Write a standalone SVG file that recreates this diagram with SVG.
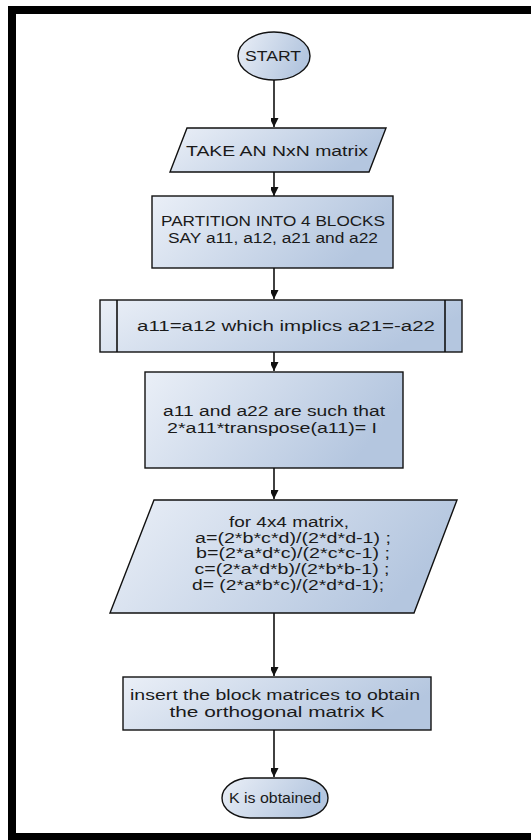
<svg xmlns="http://www.w3.org/2000/svg" width="531" height="840" viewBox="0 0 531 840">
<style>
.shape{stroke:#111;stroke-width:1.4;fill:url(#g)}
.t{font-family:"Liberation Sans",Arial,sans-serif;font-size:14px;fill:#1a1a1a}
.c{stroke:#111;stroke-width:1.6;fill:none}
</style>
<defs>
<linearGradient id="g" x1="0" y1="0" x2="1" y2="0.3">
<stop offset="0" stop-color="#eaeff7"/>
<stop offset="1" stop-color="#b4c6df"/>
</linearGradient>
<marker id="ah" markerUnits="userSpaceOnUse" markerWidth="18" markerHeight="18" viewBox="-9 -15 18 18" refX="0" refY="0" orient="auto-start-reverse">
<path d="M0,0 L-7,-14 L0,-10 L7,-14 Z" fill="#111" transform="rotate(-90)"/>
</marker>
</defs>
<g id="frame">
<rect x="8" y="6" width="523" height="8" fill="#000"/>
<rect x="8" y="6" width="8" height="834" fill="#000"/>
<rect x="8" y="833" width="523" height="7" fill="#000"/>
</g>
<g id="connectors">
<line class="c" x1="274" y1="80" x2="274" y2="127" marker-end="url(#ah)"/>
<line class="c" x1="274" y1="172" x2="274" y2="196" marker-end="url(#ah)"/>
<line class="c" x1="274" y1="268" x2="274" y2="299" marker-end="url(#ah)"/>
<line class="c" x1="274" y1="352" x2="274" y2="371" marker-end="url(#ah)"/>
<line class="c" x1="274" y1="468" x2="274" y2="499" marker-end="url(#ah)"/>
<line class="c" x1="274" y1="613" x2="274" y2="676" marker-end="url(#ah)"/>
<line class="c" x1="274" y1="730" x2="274" y2="777" marker-end="url(#ah)"/>
</g>
<g id="start">
<ellipse class="shape" cx="274" cy="56" rx="36" ry="24"/>
<text class="t" x="273" y="61" font-size="15" text-anchor="middle" textLength="56" lengthAdjust="spacingAndGlyphs">START</text>
</g>
<g id="take">
<polygon class="shape" points="187,128 386,128 369,172 170,172"/>
<text class="t" x="277" y="156" text-anchor="middle" textLength="182" lengthAdjust="spacingAndGlyphs">TAKE AN NxN matrix</text>
</g>
<g id="partition">
<rect class="shape" x="152" y="196" width="241" height="72"/>
<text class="t" x="273" y="226" text-anchor="middle" textLength="224" lengthAdjust="spacingAndGlyphs">PARTITION INTO 4 BLOCKS</text>
<text class="t" x="273" y="243" text-anchor="middle" textLength="210" lengthAdjust="spacingAndGlyphs">SAY a11, a12, a21 and a22</text>
</g>
<g id="predefined">
<rect class="shape" x="100" y="300" width="362" height="52"/>
<line class="c" x1="117" y1="300" x2="117" y2="352"/>
<line class="c" x1="445" y1="300" x2="445" y2="352"/>
<text class="t" x="286" y="331" text-anchor="middle" textLength="298" lengthAdjust="spacingAndGlyphs">a11=a12 which implics a21=-a22</text>
</g>
<g id="orth">
<rect class="shape" x="145" y="372" width="258" height="96"/>
<text class="t" x="274" y="416" text-anchor="middle" textLength="222" lengthAdjust="spacingAndGlyphs">a11 and a22 are such that</text>
<text class="t" x="272" y="433" text-anchor="middle" textLength="210" lengthAdjust="spacingAndGlyphs">2*a11*transpose(a11)= I</text>
</g>
<g id="formula">
<polygon class="shape" points="154,500 457,500 414,613 110,613"/>
<text class="t" x="289" y="527" text-anchor="middle" textLength="120" lengthAdjust="spacingAndGlyphs">for 4x4 matrix,</text>
<text class="t" x="293" y="543" text-anchor="middle" textLength="196" lengthAdjust="spacingAndGlyphs">a=(2*b*c*d)/(2*d*d-1) ;</text>
<text class="t" x="293" y="558" text-anchor="middle" textLength="194" lengthAdjust="spacingAndGlyphs">b=(2*a*d*c)/(2*c*c-1) ;</text>
<text class="t" x="292" y="574" text-anchor="middle" textLength="195" lengthAdjust="spacingAndGlyphs">c=(2*a*d*b)/(2*b*b-1) ;</text>
<text class="t" x="288" y="590" text-anchor="middle" textLength="192" lengthAdjust="spacingAndGlyphs">d= (2*a*b*c)/(2*d*d-1);</text>
</g>
<g id="insert">
<rect class="shape" x="123" y="677" width="308" height="53"/>
<text class="t" x="275" y="700" text-anchor="middle" textLength="290" lengthAdjust="spacingAndGlyphs">insert the block matrices to obtain</text>
<text class="t" x="277" y="717" text-anchor="middle" textLength="215" lengthAdjust="spacingAndGlyphs">the orthogonal matrix K</text>
</g>
<g id="end">
<rect class="shape" x="222" y="778" width="106" height="40" rx="28" ry="20"/>
<text class="t" x="275" y="803" text-anchor="middle" textLength="92" lengthAdjust="spacingAndGlyphs">K is obtained</text>
</g>
</svg>
